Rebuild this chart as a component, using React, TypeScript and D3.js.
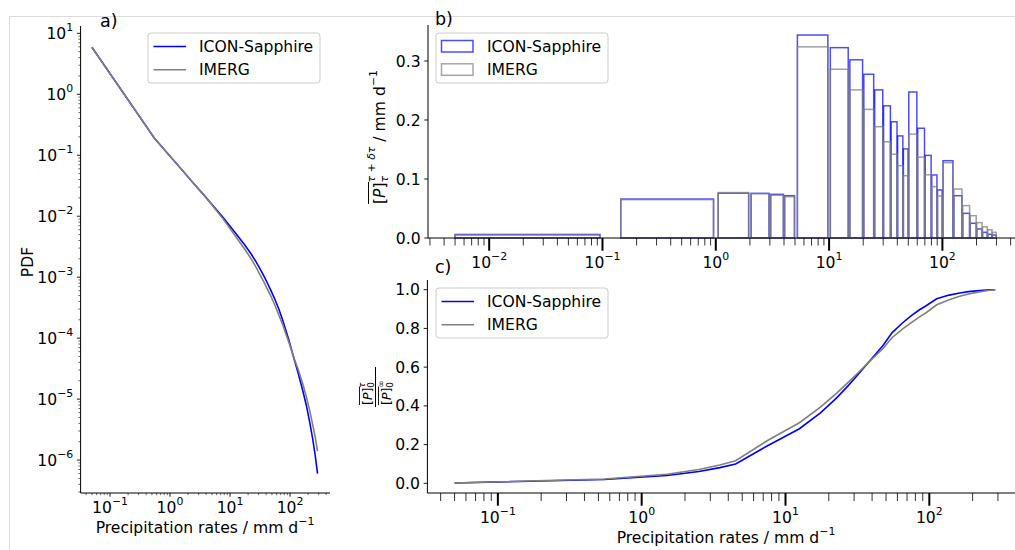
import React from 'react';
import * as d3 from 'd3';

// ---------------- DATA ----------------
const binEdges = [0, 0.1, 1, 2, 3, 4, 5, 10, 15, 20, 25, 30, 35, 40, 45, 50, 60, 70, 80, 90, 100, 125, 150, 175, 200, 225, 250, 275, 300];
const contribICON = [0.006, 0.066, 0.076, 0.0757, 0.074, 0.0717, 0.344, 0.3226, 0.302, 0.2775, 0.251, 0.224, 0.197, 0.173, 0.151, 0.2474, 0.186, 0.14, 0.1068, 0.0814, 0.131, 0.0717, 0.0418, 0.0249, 0.0153, 0.0096, 0.0062, 0.005];
const contribIMERG = [0.005, 0.065, 0.077, 0.075, 0.0725, 0.07, 0.324, 0.286, 0.251, 0.218, 0.1887, 0.163, 0.142, 0.1226, 0.1056, 0.176, 0.137, 0.107, 0.087, 0.0712, 0.1276, 0.083, 0.0548, 0.0378, 0.026, 0.019, 0.014, 0.0096];

const rates = [0.05, 0.55, 1.5, 2.5, 3.5, 4.5, 7.5, 12.5, 17.5, 22.5, 27.5, 32.5, 37.5, 42.5, 47.5, 55, 65, 75, 85, 95, 112.5, 137.5, 162.5, 187.5, 212.5, 237.5, 262.5, 287.5];
const cumICON = [0.002, 0.02, 0.04, 0.061, 0.081, 0.1, 0.194, 0.282, 0.364, 0.439, 0.507, 0.568, 0.622, 0.669, 0.71, 0.777, 0.828, 0.866, 0.895, 0.917, 0.953, 0.972, 0.983, 0.99, 0.994, 0.997, 0.999, 1.0];
const cumIMERG = [0.002, 0.022, 0.047, 0.071, 0.095, 0.117, 0.221, 0.313, 0.393, 0.463, 0.524, 0.576, 0.622, 0.661, 0.695, 0.752, 0.796, 0.83, 0.858, 0.881, 0.922, 0.948, 0.966, 0.978, 0.986, 0.992, 0.997, 1.0];

const pdfICON = [5.9, 0.19, 0.061, 0.034, 0.0235, 0.0176, 0.0098, 0.0052, 0.0034, 0.0024, 0.00175, 0.0013, 0.001, 0.00078, 0.00062, 0.00045, 0.0003, 0.0002, 0.000135, 0.000095, 0.000052, 0.000026, 0.000014, 0.0000078, 0.0000042, 0.0000023, 0.0000012, 0.0000006];
const pdfIMERG = [5.85, 0.19, 0.061, 0.034, 0.0234, 0.0174, 0.0093, 0.0046, 0.0029, 0.002, 0.00142, 0.00104, 0.0008, 0.00062, 0.0005, 0.00036, 0.00024, 0.00017, 0.000118, 0.000087, 0.000052, 0.00003, 0.000018, 0.0000108, 0.0000065, 0.0000039, 0.0000024, 0.0000014];

const seriesNames = ['ICON-Sapphire', 'IMERG'];
const aXMajorExp = [-1, 0, 1, 2];
const aYMajorExp = [1, 0, -1, -2, -3, -4, -5, -6];
const bXMajorExp = [-2, -1, 0, 1, 2];
const cXMajorExp = [-1, 0, 1, 2];
const bYTicks = [0, 0.1, 0.2, 0.3];
const cYTicks = [0, 0.2, 0.4, 0.6, 0.8, 1.0];

// ---------------- STYLE ----------------
const FONT = "'DejaVu Sans', sans-serif";
const FS = 15.6;
const SUP = 10.9;
const BLUE = '#0000ff';
const GREY = '#808080';

const fmtExp = (e: number) => (e < 0 ? `\u2212${-e}` : `${e}`);

function Pow10({ x, y, exp, anchor }: { x: number; y: number; exp: number; anchor: string }) {
  return (
    <text x={x} y={y} textAnchor={anchor} fontSize={FS}>
      10<tspan dy={-8} fontSize={SUP}>{fmtExp(exp)}</tspan>
    </text>
  );
}

function isPow10(v: number) {
  const l = Math.log10(v);
  return Math.abs(l - Math.round(l)) < 1e-9;
}

function LogXAxis({ scale, y, majors, majorLen, minorLen, majorW, minorW, labelY }: any) {
  const minors = scale.ticks().filter((v: number) => !isPow10(v));
  const [r0, r1] = scale.range();
  return (
    <g>
      {minors.map((v: number, i: number) => {
        const x = scale(v);
        if (x < r0 - 0.5 || x > r1 + 0.5) return null;
        return <line key={'m' + i} x1={x} x2={x} y1={y} y2={y + minorLen} stroke="#000" strokeWidth={minorW} />;
      })}
      {majors.map((e: number) => {
        const x = scale(Math.pow(10, e));
        return (
          <g key={'M' + e}>
            <line x1={x} x2={x} y1={y} y2={y + majorLen} stroke="#000" strokeWidth={majorW} />
            <Pow10 x={x} y={labelY} exp={e} anchor="middle" />
          </g>
        );
      })}
    </g>
  );
}

function LegendLines({ x, y }: { x: number; y: number }) {
  return (
    <g>
      <rect x={x} y={y} width={172} height={50} rx={3} fill="#fff" fillOpacity={0.8} stroke="#cccccc" strokeWidth={1} />
      {seriesNames.map((n, i) => (
        <g key={n}>
          <line x1={x + 5.5} x2={x + 38} y1={y + 13.5 + i * 23.3} y2={y + 13.5 + i * 23.3} stroke={i === 0 ? BLUE : GREY} strokeWidth={1.6} />
          <text x={x + 51} y={y + 19 + i * 23.3} fontSize={FS}>{n}</text>
        </g>
      ))}
    </g>
  );
}

function LegendPatches({ x, y }: { x: number; y: number }) {
  return (
    <g>
      <rect x={x} y={y} width={172} height={50} rx={3} fill="#fff" fillOpacity={0.8} stroke="#cccccc" strokeWidth={1} />
      {seriesNames.map((n, i) => (
        <g key={n}>
          <rect x={x + 5.5} y={y + 7.5 + i * 23.3} width={31.5} height={11.5} fill="none" stroke={i === 0 ? BLUE : GREY} strokeOpacity={0.7} strokeWidth={1.5} />
          <text x={x + 51} y={y + 19 + i * 23.3} fontSize={FS}>{n}</text>
        </g>
      ))}
    </g>
  );
}

export default function App() {
  // ---- panel a ----
  const ax = d3.scaleLog().domain([Math.pow(10, -1.49), Math.pow(10, 2.666)]).range([80.6, 330]);
  const ay = d3.scaleLog().domain([Math.pow(10, -6.54), Math.pow(10, 1.12)]).range([493, 26]);
  const aLine = d3.line<number>().x((_, i) => ax(rates[i])).y((d) => ay(d));
  const ayMinors = ay.ticks().filter((v: number) => !isPow10(v));

  // ---- panel b ----
  const bx = d3.scaleLog().domain([Math.pow(10, -2.54), Math.pow(10, 2.714)]).range([428, 1023.3]);
  const by = d3.scaleLinear().domain([0, 0.361]).range([238, 25]);
  const bars = (vals: number[]) =>
    vals.map((v, i) => {
      const e0 = binEdges[i];
      const e1 = binEdges[i + 1];
      const c = (e0 + e1) / 2;
      const w = (e1 - e0) * 0.9;
      const x0 = bx(c - w / 2);
      const x1 = bx(c + w / 2);
      return { x: x0, w: x1 - x0, y: by(v), h: by(0) - by(v) };
    });
  const barsICON = bars(contribICON);
  const barsIMERG = bars(contribIMERG);

  // ---- panel c ----
  const cx = d3.scaleLog().domain([Math.pow(10, -1.49), Math.pow(10, 2.666)]).range([427.4, 1025.1]);
  const cy = d3.scaleLinear().domain([-0.05, 1.05]).range([493, 280]);
  const cLine = d3.line<number>().x((_, i) => cx(rates[i])).y((d) => cy(d));

  return (
    <svg width={1015} height={550} style={{ position: 'absolute', left: 0, top: 0, background: '#fff' }} fontFamily={FONT}>
      <rect x={0} y={0} width={1015} height={550} fill="#fff" />
      {/* faint frame */}
      <line x1={9.5} x2={1015} y1={16.5} y2={16.5} stroke="#dcdcdc" strokeWidth={1} />
      <line x1={9.5} x2={9.5} y1={16.5} y2={550} stroke="#dcdcdc" strokeWidth={1} />

      {/* ============ PANEL A ============ */}
      <text x={100} y={26.5} fontSize={17.5}>a)</text>
      <path d={aLine(pdfICON) || ''} fill="none" stroke={BLUE} strokeWidth={1.6} />
      <path d={aLine(pdfIMERG) || ''} fill="none" stroke={GREY} strokeWidth={1.6} />
      {ayMinors.map((v: number, i: number) => (
        <line key={'aym' + i} x1={80.6 - 2.2} x2={80.6} y1={ay(v)} y2={ay(v)} stroke="#000" strokeWidth={0.6} />
      ))}
      {aYMajorExp.map((e) => (
        <g key={'ayM' + e}>
          <line x1={80.6 - 3.7} x2={80.6} y1={ay(Math.pow(10, e))} y2={ay(Math.pow(10, e))} stroke="#000" strokeWidth={0.9} />
          <Pow10 x={73.2} y={ay(Math.pow(10, e)) + 5.7} exp={e} anchor="end" />
        </g>
      ))}
      <LogXAxis scale={ax} y={493} majors={aXMajorExp} majorLen={3.7} minorLen={2.2} majorW={0.9} minorW={0.6} labelY={513.3} />
      <line x1={80.6} x2={80.6} y1={26} y2={493} stroke="#000" strokeWidth={1} />
      <line x1={80.6} x2={330} y1={493} y2={493} stroke="#000" strokeWidth={1} />
      <text x={205} y={533} textAnchor="middle" fontSize={FS}>
        Precipitation rates / mm d<tspan dy={-8} fontSize={SUP}>{'\u22121'}</tspan>
      </text>
      <text transform="translate(33,262) rotate(-90)" textAnchor="middle" fontSize={FS}>PDF</text>
      <LegendLines x={148} y={33} />

      {/* ============ PANEL B ============ */}
      <text x={435} y={25} fontSize={17.5}>b)</text>
      {barsICON.map((b, i) => (
        <rect key={'bi' + i} x={b.x} y={b.y} width={b.w} height={b.h} fill="none" stroke={BLUE} strokeOpacity={0.7} strokeWidth={1.5} />
      ))}
      {barsIMERG.map((b, i) => (
        <rect key={'bg' + i} x={b.x} y={b.y} width={b.w} height={b.h} fill="none" stroke={GREY} strokeOpacity={0.75} strokeWidth={1.5} />
      ))}
      {bYTicks.map((t) => (
        <g key={'by' + t}>
          <line x1={428 - 3.7} x2={428} y1={by(t)} y2={by(t)} stroke="#000" strokeWidth={0.9} />
          <text x={420.6} y={by(t) + 5.6} textAnchor="end" fontSize={FS}>{t.toFixed(1)}</text>
        </g>
      ))}
      <LogXAxis scale={bx} y={238} majors={bXMajorExp} majorLen={12.7} minorLen={7.5} majorW={2} minorW={0.8} labelY={268.4} />
      <line x1={428} x2={428} y1={25} y2={238} stroke="#000" strokeWidth={1} />
      <line x1={428} x2={1023.3} y1={238} y2={238} stroke="#000" strokeWidth={1} />
      <g transform="translate(384.5,132) rotate(-90)">
        <text x={-72} y={0} fontSize={FS}>
          [<tspan fontStyle="italic">P</tspan>]<tspan dy={3} fontSize={SUP} fontStyle="italic">τ</tspan>
          <tspan dx={-6.6} dy={-12.5} fontSize={SUP} fontStyle="italic">τ + δτ</tspan>
          <tspan dy={9.5}> / mm d</tspan>
          <tspan dy={-8} fontSize={SUP}>{'\u22121'}</tspan>
        </text>
        <line x1={-72} x2={-50} y1={-16} y2={-16} stroke="#000" strokeWidth={1} />
      </g>
      <LegendPatches x={436} y={33} />

      {/* ============ PANEL C ============ */}
      <text x={435} y={273} fontSize={17.5}>c)</text>
      <path d={cLine(cumICON) || ''} fill="none" stroke={BLUE} strokeWidth={1.6} />
      <path d={cLine(cumIMERG) || ''} fill="none" stroke={GREY} strokeWidth={1.6} />
      {cYTicks.map((t) => (
        <g key={'cy' + t}>
          <line x1={427.4 - 3.7} x2={427.4} y1={cy(t)} y2={cy(t)} stroke="#000" strokeWidth={0.9} />
          <text x={420} y={cy(t) + 5.6} textAnchor="end" fontSize={FS}>{t.toFixed(1)}</text>
        </g>
      ))}
      <LogXAxis scale={cx} y={493} majors={cXMajorExp} majorLen={12.7} minorLen={8} majorW={2} minorW={0.8} labelY={523.3} />
      <line x1={427.4} x2={427.4} y1={280} y2={493} stroke="#000" strokeWidth={1} />
      <line x1={427.4} x2={1025} y1={493} y2={493} stroke="#000" strokeWidth={1} />
      <text x={726} y={543} textAnchor="middle" fontSize={FS}>
        Precipitation rates / mm d<tspan dy={-8} fontSize={SUP}>{'\u22121'}</tspan>
      </text>
      <g transform="translate(375.5,387) rotate(-90)">
        <line x1={-20} x2={20} y1={0} y2={0} stroke="#000" strokeWidth={1} />
        <text x={-18} y={-4} fontSize={12.5}>
          [<tspan fontStyle="italic">P</tspan>]<tspan dy={2.5} fontSize={8.8}>0</tspan>
          <tspan dx={-5.6} dy={-9} fontSize={8.8} fontStyle="italic">τ</tspan>
        </text>
        <line x1={-18} x2={0.5} y1={-16} y2={-16} stroke="#000" strokeWidth={0.9} />
        <text x={-18} y={15} fontSize={12.5}>
          [<tspan fontStyle="italic">P</tspan>]<tspan dy={2.5} fontSize={8.8}>0</tspan>
          <tspan dx={-5.6} dy={-9} fontSize={8.8}>∞</tspan>
        </text>
        <line x1={-18} x2={0.5} y1={3} y2={3} stroke="#000" strokeWidth={0.9} />
      </g>
      <LegendLines x={436} y={288} />
    </svg>
  );
}
